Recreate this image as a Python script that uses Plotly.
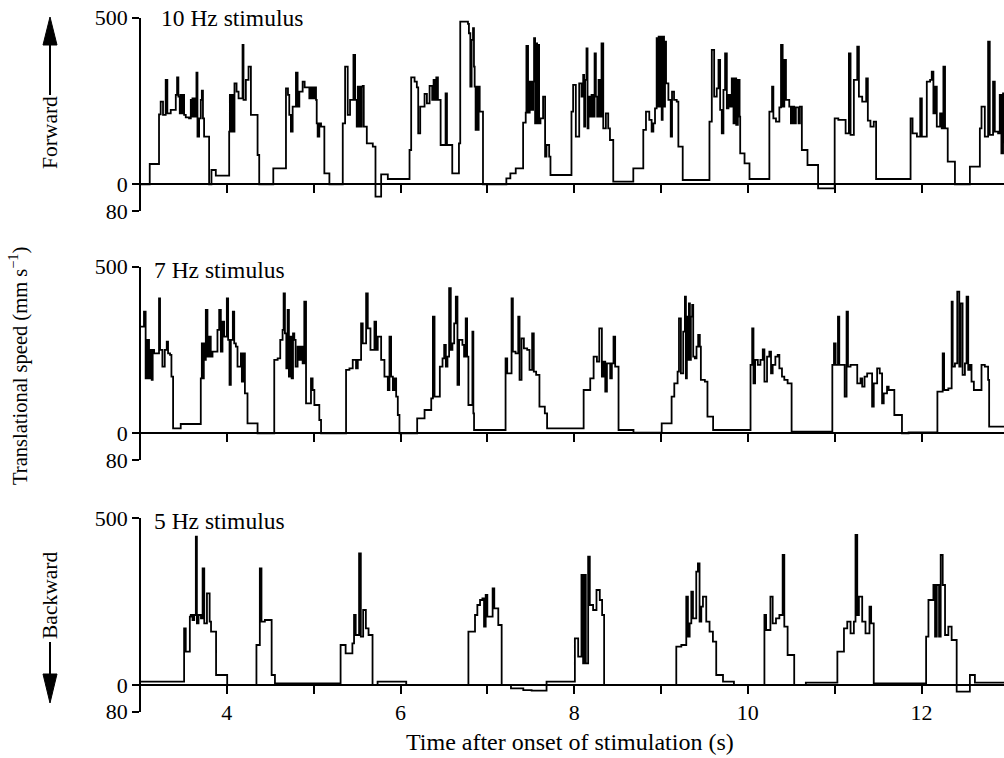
import plotly.graph_objects as go

# ---------------- data (time s, translational speed mm/s) ----------------
t10 = [3.0, 3.112, 3.219, 3.238, 3.265, 3.296, 3.315, 3.354, 3.412, 3.427, 3.442, 3.458, 3.465, 3.473,
       3.481, 3.488, 3.496, 3.508, 3.527, 3.565, 3.585, 3.596, 3.604, 3.612, 3.623, 3.635, 3.65, 3.662,
       3.681, 3.7, 3.712, 3.725, 3.738, 3.796, 3.823, 3.873, 4.027, 4.035, 4.042, 4.05, 4.058, 4.065,
       4.073, 4.088, 4.112, 4.135, 4.181, 4.192, 4.219, 4.25, 4.277, 4.354, 4.373, 4.535, 4.681, 4.704,
       4.719, 4.738, 4.758, 4.796, 4.815, 4.835, 4.873, 4.896, 4.95, 4.962, 4.973, 4.985, 4.996, 5.008,
       5.027, 5.035, 5.046, 5.065, 5.085, 5.123, 5.181, 5.335, 5.362, 5.392, 5.419, 5.458, 5.477, 5.496,
       5.508, 5.519, 5.531, 5.542, 5.554, 5.565, 5.577, 5.612, 5.681, 5.712, 5.777, 5.854, 6.104, 6.123,
       6.162, 6.188, 6.204, 6.227, 6.277, 6.304, 6.335, 6.365, 6.381, 6.396, 6.412, 6.431, 6.462, 6.519,
       6.535, 6.596, 6.673, 6.688, 6.777, 6.788, 6.804, 6.819, 6.835, 6.846, 6.854, 6.865, 6.877, 6.888,
       6.9, 6.912, 6.95, 7.219, 7.265, 7.327, 7.412, 7.442, 7.45, 7.469, 7.488, 7.508, 7.527, 7.538,
       7.55, 7.562, 7.573, 7.585, 7.596, 7.612, 7.642, 7.665, 7.681, 7.712, 7.727, 7.969, 7.988, 8.019,
       8.058, 8.085, 8.104, 8.115, 8.127, 8.142, 8.154, 8.165, 8.181, 8.2, 8.219, 8.235, 8.25, 8.265,
       8.281, 8.296, 8.315, 8.335, 8.365, 8.392, 8.412, 8.45, 8.681, 8.796, 8.827, 8.865, 8.892, 8.912,
       8.931, 8.95, 8.962, 8.973, 8.985, 8.996, 9.008, 9.019, 9.035, 9.046, 9.058, 9.085, 9.112, 9.127,
       9.15, 9.181, 9.2, 9.25, 9.558, 9.585, 9.612, 9.642, 9.662, 9.681, 9.7, 9.719, 9.738, 9.758,
       9.777, 9.796, 9.815, 9.835, 9.847, 9.866, 9.885, 9.905, 9.912, 9.962, 10.019, 10.248, 10.279,
       10.294, 10.324, 10.363, 10.382, 10.401, 10.42, 10.439, 10.477, 10.496, 10.515, 10.534, 10.553,
       10.584, 10.599, 10.622, 10.687, 10.809, 11.0, 11.042, 11.126, 11.164, 11.183, 11.221, 11.26,
       11.279, 11.317, 11.363, 11.382, 11.412, 11.45, 11.477, 11.874, 11.897, 11.947, 11.985, 12.004,
       12.061, 12.099, 12.118, 12.137, 12.156, 12.176, 12.214, 12.233, 12.252, 12.271, 12.302, 12.385,
       12.557, 12.672, 12.691, 12.729, 12.767, 12.786, 12.824, 12.844, 12.882, 12.901, 12.92, 12.939,
       12.958]
v10 = [0, 61, 210, 248, 208, 313, 213, 223, 268, 321, 263, 213, 268, 213,
       268, 213, 268, 208, 201, 198, 253, 203, 258, 203, 258, 203, 335, 143,
       198, 253, 281, 198, 143, 0, 43, 26, 158, 268, 158, 268, 158, 268,
       158, 303, 278, 258, 418, 253, 313, 353, 208, 88, 0, 48, 288, 268,
       208, 158, 233, 335, 233, 278, 308, 291, 258, 291, 258, 291, 258, 291,
       253, 183, 143, 183, 173, 33, 0, 183, 353, 208, 253, 388, 253, 173,
       293, 173, 293, 173, 293, 295, 173, 123, 113, -37, 30, 16, 103, 321,
       308, 291, 153, 233, 271, 243, 295, 253, 313, 253, 321, 253, 118, 273,
       118, 33, 123, 488, 481, 453, 293, 433, 468, 353, 293, 163, 293, 163,
       293, 218, 0, 18, 33, 48, 185, 215, 415, 215, 308, 223, 308, 438,
       183, 423, 183, 418, 183, 198, 263, 83, 118, 83, 28, 218, 298, 143,
       303, 263, 328, 173, 313, 408, 168, 263, 203, 268, 203, 393, 263, 203,
       313, 203, 423, 168, 213, 168, 133, 8, 48, 163, 218, 193, 158, 183,
       228, 438, 233, 443, 233, 443, 193, 443, 233, 428, 303, 253, 143, 278,
       253, 248, 113, 13, 188, 403, 263, 288, 373, 223, 153, 283, 393, 228,
       268, 233, 318, 183, 318, 178, 313, 203, 93, 63, 16, 218, 293,
       198, 188, 231, 418, 233, 373, 253, 233, 183, 233, 183, 231,
       183, 233, 103, 58, -12, 198, 193, 153, 393, 148, 313, 413,
       263, 248, 318, 191, 173, 188, 16, 198, 153, 143, 258, 143,
       308, 313, 338, 213, 293, 173, 213, 168, 353, 168, 68, 0,
       53, 168, 233, 143, 428, 148, 308, 158, 153, 268, 93, 273,
       123]

t7 = [3.0, 3.046, 3.065, 3.085, 3.104, 3.123, 3.135, 3.146, 3.162, 3.219, 3.231, 3.258, 3.285, 3.308,
      3.323, 3.346, 3.362, 3.381, 3.469, 3.7, 3.712, 3.723, 3.735, 3.746, 3.758, 3.777, 3.796, 3.815,
      3.835, 3.892, 3.912, 3.931, 3.95, 3.969, 4.0, 4.015, 4.031, 4.046, 4.069, 4.085, 4.104, 4.123,
      4.162, 4.173, 4.192, 4.208, 4.238, 4.354, 4.546, 4.585, 4.615, 4.642, 4.654, 4.669, 4.685, 4.7,
      4.715, 4.731, 4.746, 4.762, 4.777, 4.792, 4.815, 4.835, 4.854, 4.873, 4.892, 4.912, 4.969, 4.988,
      5.008, 5.065, 5.085, 5.373, 5.412, 5.45, 5.488, 5.508, 5.546, 5.565, 5.604, 5.623, 5.654, 5.7,
      5.719, 5.738, 5.777, 5.815, 5.854, 5.873, 5.892, 5.912, 5.931, 5.95, 5.969, 5.988, 6.192, 6.277,
      6.354, 6.373, 6.392, 6.453, 6.484, 6.503, 6.522, 6.541, 6.56, 6.579, 6.598, 6.618, 6.637, 6.656,
      6.675, 6.713, 6.732, 6.751, 6.767, 6.782, 6.828, 6.839, 6.847, 7.21, 7.229, 7.279, 7.294, 7.325,
      7.356, 7.371, 7.394, 7.421, 7.459, 7.486, 7.516, 7.535, 7.562, 7.6, 7.662, 7.688, 8.109, 8.185,
      8.224, 8.262, 8.289, 8.319, 8.338, 8.358, 8.377, 8.415, 8.434, 8.453, 8.472, 8.511, 8.683, 9.008,
      9.122, 9.153, 9.191, 9.207, 9.229, 9.256, 9.275, 9.287, 9.298, 9.31, 9.321, 9.333, 9.344, 9.359,
      9.371, 9.39, 9.409, 9.428, 9.447, 9.459, 9.505, 9.535, 9.6, 10.031, 10.05, 10.065, 10.084, 10.115,
      10.145, 10.172, 10.191, 10.221, 10.248, 10.267, 10.286, 10.317, 10.344, 10.363, 10.393, 10.42,
      10.458, 10.504, 10.973, 10.992, 11.011, 11.038, 11.053, 11.115, 11.137, 11.153, 11.183, 11.26,
      11.298, 11.317, 11.344, 11.374, 11.431, 11.45, 11.489, 11.519, 11.546, 11.565, 11.603, 11.622,
      11.687, 11.775, 11.851, 12.183, 12.244, 12.26, 12.309, 12.347, 12.359, 12.385, 12.412, 12.435,
      12.45, 12.473, 12.5, 12.519, 12.538, 12.557, 12.576, 12.603, 12.691, 12.729, 12.767, 12.779,
      12.95]
v7 = [320, 365, 165, 280, 165, 250, 160, 250, 240, 405, 250, 200, 250, 275,
      240, 235, 170, 15, 28, 165, 270, 165, 270, 220, 370, 230, 290, 230,
      245, 310, 370, 245, 335, 290, 405, 280, 145, 280, 365, 270, 260, 200,
      240, 155, 240, 120, 30, 0, 220, 225, 280, 310, 420, 300, 195, 370,
      170, 290, 165, 300, 280, 200, 260, 220, 260, 210, 395, 90, 165, 130,
      85, 40, 0, 190, 195, 220, 195, 220, 330, 270, 420, 315, 250, 335,
      250, 290, 220, 170, 130, 290, 170, 130, 165, 110, 55, 0, 45, 70,
      105, 350, 110, 200, 225, 265, 200, 230, 435, 250, 270, 330, 410, 145,
      280, 265, 230, 345, 230, 85, 305, 60, 10, 225, 180, 405, 245, 240,
      350, 160, 285, 255, 250, 190, 300, 185, 175, 80, 60, 15, 130, 165,
      230, 215, 315, 170, 215, 125, 210, 165, 210, 290, 200, 10, 2, 30,
      110, 150, 185, 345, 180, 305, 410, 165, 350, 220, 390, 220, 350, 385,
      230, 225, 260, 295, 260, 160, 155, 50, 10, 205, 315, 150, 220, 205,
      220, 252, 155, 230, 245, 180, 205, 230, 235, 195, 170, 160,
      150, 5, 205, 270, 205, 350, 205, 110, 365, 200, 205, 150,
      165, 140, 170, 180, 80, 150, 195, 180, 90, 120, 140, 130,
      55, 0, 3, 125, 240, 130, 135, 395, 200, 210, 425, 200,
      390, 175, 210, 410, 190, 205, 155, 130, 205, 200, 160, 20,
      20]

t5 = [3.0, 3.508, 3.527, 3.574, 3.585, 3.605, 3.624, 3.643, 3.655, 3.674, 3.702, 3.721, 3.74, 3.771,
      3.802, 3.818, 3.876, 4.004, 4.341, 4.38, 4.399, 4.438, 4.516, 4.554, 5.31, 5.368, 5.446, 5.465,
      5.484, 5.523, 5.543, 5.57, 5.601, 5.632, 5.678, 5.736, 6.066, 6.782, 6.858, 6.885, 6.916, 6.943,
      6.962, 6.981, 7.0, 7.061, 7.08, 7.126, 7.165, 7.272, 7.414, 7.51, 7.682, 8.008, 8.046, 8.084,
      8.103, 8.123, 8.134, 8.161, 8.18, 8.218, 8.257, 8.295, 8.322, 8.345, 9.176, 9.234, 9.291, 9.31,
      9.33, 9.349, 9.368, 9.406, 9.425, 9.444, 9.464, 9.483, 9.521, 9.559, 9.598, 9.636, 9.714, 9.84,
      10.191, 10.21, 10.26, 10.286, 10.324, 10.363, 10.401, 10.42, 10.458, 10.534, 10.668, 11.031,
      11.107, 11.145, 11.183, 11.221, 11.24, 11.26, 11.279, 11.317, 11.355, 11.401, 11.42, 11.45,
      12.053, 12.08, 12.137, 12.156, 12.176, 12.202, 12.221, 12.244, 12.271, 12.309, 12.347, 12.405,
      12.557, 12.615, 12.95]
v5 = [10, 170, 100, 205, 210, 195, 210, 445, 185, 210, 200, 350, 185, 275,
      190, 160, 30, 0, 120, 350, 190, 195, 30, 5, 120, 95, 125, 210,
      150, 395, 145, 225, 170, 150, 0, 10, 0, 160, 210, 240, 255, 260,
      175, 270, 205, 290, 230, 180, 0, -10, -15, -17, 10, 140, 85, 330,
      65, 330, 65, 385, 240, 225, 285, 255, 210, 0, 115, 120, 265, 145,
      185, 280, 200, 340, 365, 190, 235, 265, 190, 160, 130, 30, 10, 0,
      210, 165, 265, 185, 200, 210, 390, 175, 90, 0, 7, 100,
      170, 190, 155, 190, 450, 210, 265, 190, 155, 235, 185, 5,
      145, 255, 300, 145, 300, 145, 390, 300, 150, 175, 135, -20,
      30, 7, 7]

panel_labels = ["10 Hz stimulus", "7 Hz stimulus", "5 Hz stimulus"]
y_tick_vals = [-80, 0, 500]
y_tick_text = ["80", "0", "500"]

# ---------------- layout helpers (window pixel -> paper) ----------------
W, H = 1004, 758
def px(x):
    return x / W
def py(y):
    return 1 - y / H

FONT = "Liberation Serif"
fs = 22
x_dom = [px(140), 1.0]
x_range = [3.0, 12.95]

# panel geometry: (pixel y of 500, pixel y of 0, pixel y of -80)
panels = [(17.6, 184.3, 211.0), (266.6, 433.3, 460.0), (518.3, 685.0, 711.7)]
series = [(t10, v10), (t7, v7), (t5, v5)]

fig = go.Figure()
layout = dict(
    width=W, height=H,
    margin=dict(l=0, r=0, t=0, b=0, autoexpand=False),
    paper_bgcolor="white", plot_bgcolor="white",
    showlegend=False,
    font=dict(family=FONT, size=fs, color="black"),
)

for i, ((ytop, yzero, ybot), (tt, vv)) in enumerate(zip(panels, series)):
    n = "" if i == 0 else str(i + 1)
    fig.add_trace(go.Scatter(x=tt, y=vv, mode="lines", line=dict(color="black", width=1.8, shape="hv"),
                             xaxis="x" + n, yaxis="y" + n, hoverinfo="skip"))
    xa = dict(
        domain=x_dom, range=x_range, anchor="free", position=py(yzero),
        showline=True, linecolor="black", linewidth=1.8,
        ticks="outside", ticklen=8, tickwidth=1.5, tickcolor="black",
        tickfont=dict(family=FONT, size=fs, color="black"),
        showgrid=False, zeroline=False, automargin=False,
    )
    if i == 2:
        xa.update(tickmode="linear", tick0=4, dtick=2, showticklabels=True,
                  minor=dict(tickmode="linear", tick0=3, dtick=1, ticks="outside",
                             ticklen=8, tickwidth=1.5, tickcolor="black", showgrid=False))
    else:
        xa.update(tickmode="linear", tick0=4, dtick=1, showticklabels=False)
    layout["xaxis" + n] = xa
    layout["yaxis" + n] = dict(
        domain=[py(ybot), py(ytop)], range=[-80, 500], anchor="free", position=px(140),
        showline=True, linecolor="black", linewidth=1.8,
        ticks="outside", ticklen=7, tickwidth=1.5, tickcolor="black",
        tickvals=y_tick_vals, ticktext=y_tick_text, ticklabeloverflow="allow",
        tickfont=dict(family=FONT, size=fs, color="black"),
        showgrid=False, zeroline=False, automargin=False,
    )

ann = []
label_pos = [(159, 18), (152, 270), (152, 521)]
for lab, (lx, ly) in zip(panel_labels, label_pos):
    ann.append(dict(text=lab, x=px(lx), y=py(ly), xref="paper", yref="paper",
                    xanchor="left", yanchor="middle", showarrow=False,
                    font=dict(family=FONT, size=23.5, color="black")))
ann.append(dict(text="Time after onset of stimulation (s)", x=px(570), y=py(742), xref="paper", yref="paper",
                xanchor="center", yanchor="middle", showarrow=False,
                font=dict(family=FONT, size=24, color="black")))
ann.append(dict(text="Translational speed (mm s<sup>\u22121</sup>)", x=px(18), y=py(366), xref="paper", yref="paper",
                xanchor="center", yanchor="middle", showarrow=False, textangle=-90,
                font=dict(family=FONT, size=20.5, color="black")))
ann.append(dict(text="Forward", x=px(50), y=py(133), xref="paper", yref="paper",
                xanchor="center", yanchor="middle", showarrow=False, textangle=-90,
                font=dict(family=FONT, size=21.5, color="black")))
ann.append(dict(text="Backward", x=px(50), y=py(596), xref="paper", yref="paper",
                xanchor="center", yanchor="middle", showarrow=False, textangle=-90,
                font=dict(family=FONT, size=21.5, color="black")))
layout["annotations"] = ann

shapes = []
# forward arrow (up)
shapes.append(dict(type="line", xref="paper", yref="paper", x0=px(50), x1=px(50), y0=py(95), y1=py(42),
                   line=dict(color="black", width=2)))
shapes.append(dict(type="path", xref="paper", yref="paper",
                   path=f"M {px(43)},{py(45)} L {px(57)},{py(45)} L {px(50)},{py(17)} Z",
                   fillcolor="black", line=dict(color="black", width=1)))
# backward arrow (down)
shapes.append(dict(type="line", xref="paper", yref="paper", x0=px(50), x1=px(50), y0=py(642), y1=py(676),
                   line=dict(color="black", width=2)))
shapes.append(dict(type="path", xref="paper", yref="paper",
                   path=f"M {px(43)},{py(674)} L {px(57)},{py(674)} L {px(50)},{py(703)} Z",
                   fillcolor="black", line=dict(color="black", width=1)))
layout["shapes"] = shapes

fig.update_layout(**layout)
# remove the default 8px page margin so the figure fills the 1004x758 window exactly
fig.write_html("out.html", config={"displayModeBar": False},
               post_script="document.body.style.margin='0px';")
